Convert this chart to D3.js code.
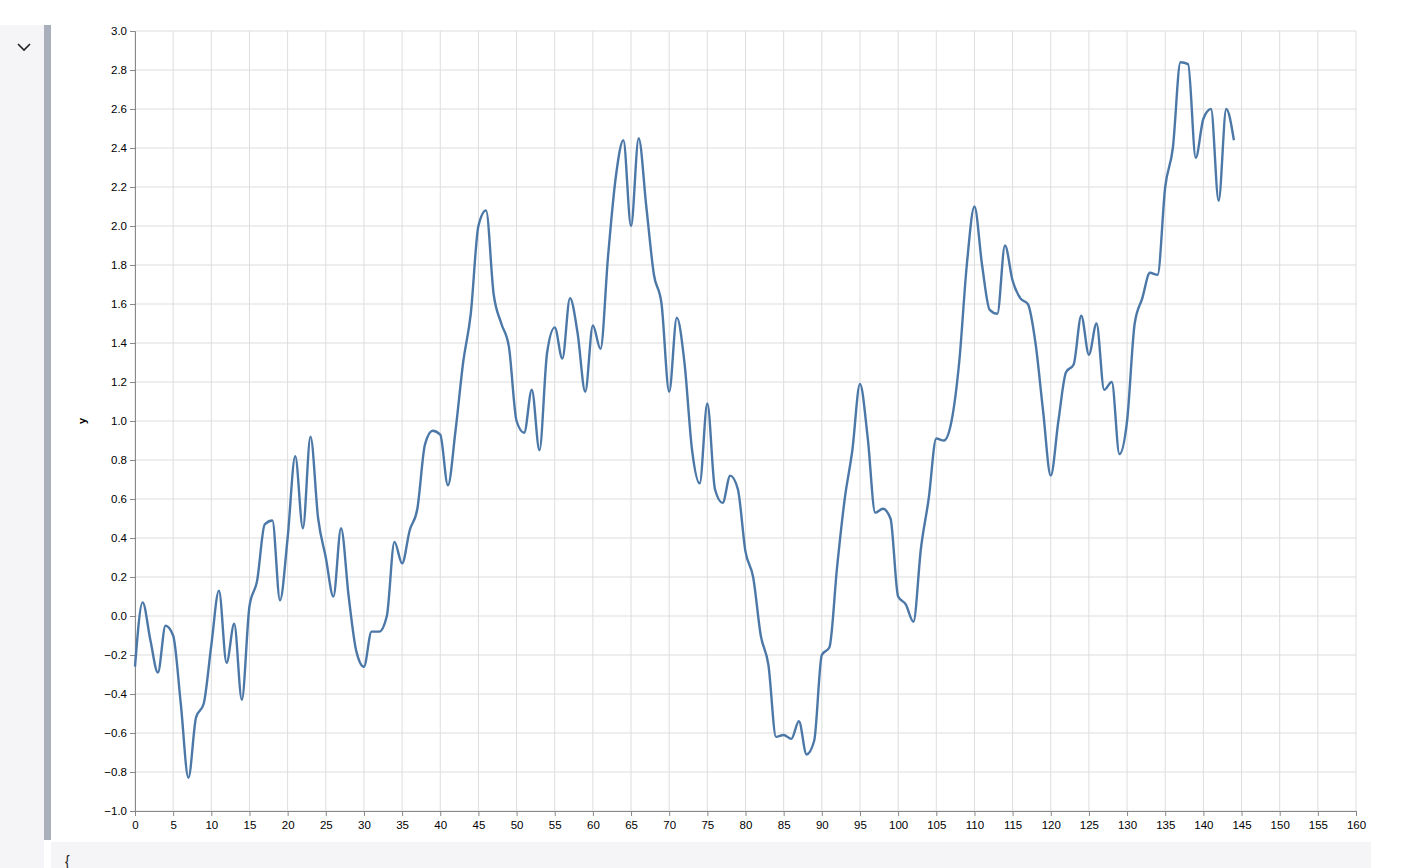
<!DOCTYPE html>
<html><head><meta charset="utf-8">
<script src="https://cdn.jsdelivr.net/npm/d3@7"></script>
<style>body{margin:0;background:#fff;font-family:"Liberation Sans",Arial,sans-serif}</style>
</head><body>
<svg id="c" width="1414" height="868"></svg>
<script>
const yValues = [-0.26,0.07,-0.12,-0.29,-0.05,-0.10,-0.45,-0.83,-0.52,-0.45,
-0.15,0.13,-0.24,-0.04,-0.43,0.05,0.18,0.47,0.49,0.08,
0.40,0.82,0.45,0.92,0.50,0.30,0.10,0.45,0.10,-0.18,
-0.26,-0.08,-0.08,0.00,0.38,0.27,0.44,0.55,0.88,0.95,
0.93,0.67,0.95,1.30,1.55,2.00,2.08,1.65,1.50,1.38,
1.00,0.94,1.16,0.85,1.35,1.48,1.32,1.63,1.45,1.15,
1.49,1.37,1.85,2.25,2.44,2.00,2.45,2.10,1.75,1.60,
1.15,1.53,1.30,0.85,0.68,1.09,0.65,0.58,0.72,0.65,
0.33,0.20,-0.10,-0.25,-0.62,-0.61,-0.63,-0.54,-0.71,-0.64,
-0.20,-0.16,0.25,0.60,0.85,1.19,0.92,0.53,0.55,0.50,
0.10,0.06,-0.03,0.35,0.60,0.91,0.90,1.00,1.30,1.80,
2.10,1.80,1.57,1.55,1.90,1.72,1.63,1.60,1.40,1.05,
0.72,1.00,1.25,1.29,1.54,1.34,1.50,1.16,1.20,0.83,
1.00,1.50,1.63,1.76,1.75,2.20,2.40,2.84,2.83,2.35,
2.55,2.60,2.13,2.60,2.44];
const xTicks = d3.range(0,161,5);
const yTicks = d3.range(-1.0,3.01,0.2).map(v=>+v.toFixed(1));
const data = yValues.map((y,i)=>({x:i,y}));

const svg = d3.select("#c");
svg.append("rect").attr("x",0).attr("y",25).attr("width",44).attr("height",843).attr("fill","#f5f5f7");
svg.append("rect").attr("x",44).attr("y",25).attr("width",7).attr("height",815).attr("fill","#a9afbb");
svg.append("path").attr("d","M18,44 L24,50 L30,44").attr("fill","none").attr("stroke","#222").attr("stroke-width",1.6);
svg.append("rect").attr("x",51).attr("y",842).attr("width",1320).attr("height",26).attr("fill","#f5f5f7");
svg.append("text").attr("x",65).attr("y",866).text("{").attr("font-size",14).attr("fill","#222");

const x = d3.scaleLinear().domain([0,160]).range([135,1356]);
const y = d3.scaleLinear().domain([-1,3]).range([811,31]);
const g = svg.append("g");
g.append("g").selectAll("line").data(xTicks).join("line")
 .attr("x1",d=>x(d)).attr("x2",d=>x(d)).attr("y1",31).attr("y2",811).attr("stroke","#ddd");
g.append("g").selectAll("line").data(yTicks).join("line")
 .attr("x1",135).attr("x2",1356).attr("y1",d=>y(d)).attr("y2",d=>y(d)).attr("stroke","#ddd");

const xa = g.append("g").attr("transform","translate(0,811)").call(d3.axisBottom(x).tickValues(xTicks).tickSize(5).tickPadding(5));
const ya = g.append("g").attr("transform","translate(135,0)").call(d3.axisLeft(y).tickValues(yTicks).tickFormat(d3.format(".1f")).tickSize(5).tickPadding(3));
[xa,ya].forEach(a=>{a.selectAll("path,line").attr("stroke","#888");a.selectAll("text").attr("font-size",11.5).attr("fill","#000").attr("font-family","Liberation Sans, Arial, sans-serif");});
svg.append("text").attr("transform","translate(86,421) rotate(-90)").attr("text-anchor","middle")
 .attr("font-weight","bold").attr("font-size",11).text("y");

g.append("path").datum(data).attr("fill","none").attr("stroke","#4c78a8").attr("stroke-width",2.4)
 .attr("d",d3.line().x(d=>x(d.x)).y(d=>y(d.y)).curve(d3.curveMonotoneX));
</script></body></html>
